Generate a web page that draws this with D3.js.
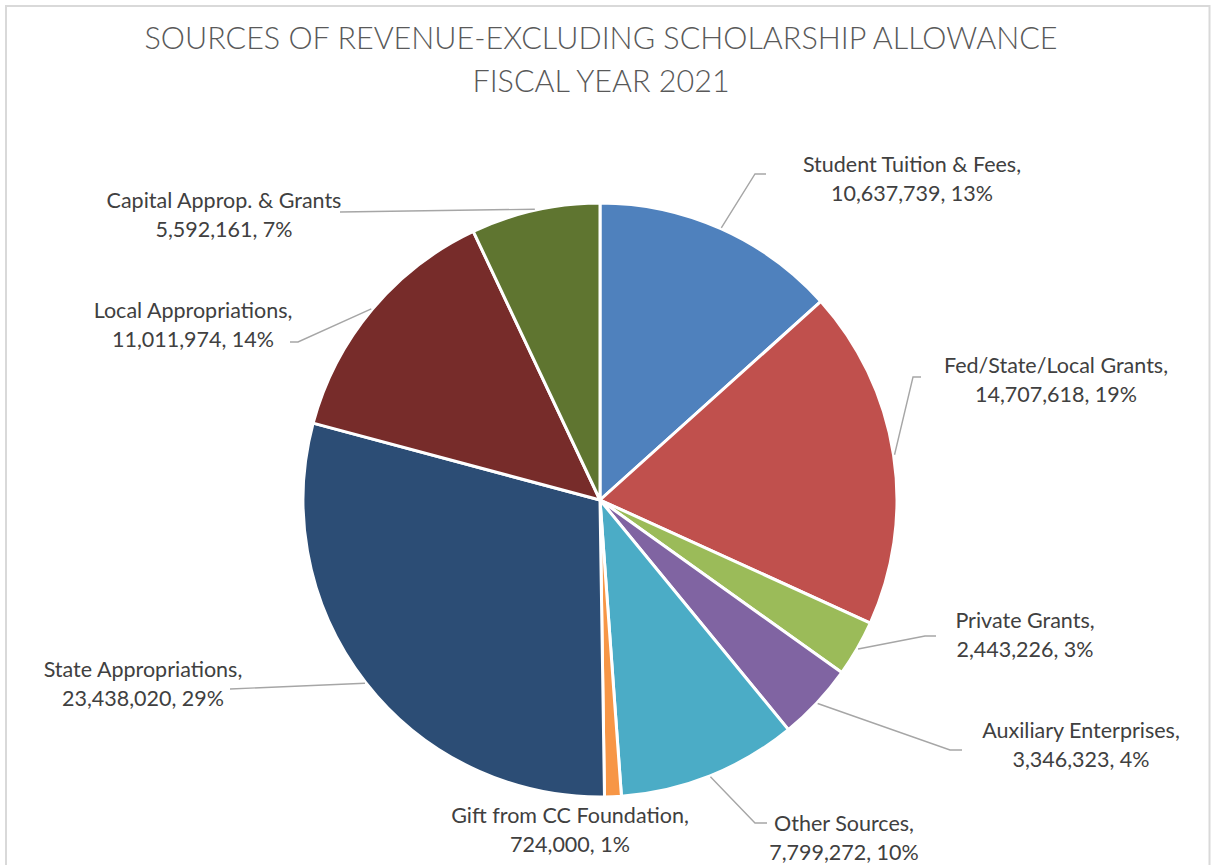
<!DOCTYPE html>
<html>
<head>
<meta charset="utf-8">
<script src="https://cdn.jsdelivr.net/npm/d3@7"></script>
<style>
  html, body { margin: 0; padding: 0; background: #fff; }
  svg { display: block; }
  text { font-family: Lato, "Open Sans", sans-serif; }
</style>
</head>
<body>
<svg id="chart" width="1211" height="865"></svg>
<script>
// Revenue sources, FY2021 (clockwise from 12 o'clock)
const categories = [
  "Student Tuition & Fees",
  "Fed/State/Local Grants",
  "Private Grants",
  "Auxiliary Enterprises",
  "Other Sources",
  "Gift from CC Foundation",
  "State Appropriations",
  "Local Appropriations",
  "Capital Approp. & Grants"
];
const values = [10637739, 14707618, 2443226, 3346323, 7799272, 724000, 23438020, 11011974, 5592161];
const percents = [13, 19, 3, 4, 10, 1, 29, 14, 7];
const colors = ["#4F81BD", "#C0504D", "#9BBB59", "#8064A2", "#4BACC6", "#F79646", "#2C4D75", "#772C2A", "#5F7530"];
const titleLines = ["SOURCES OF REVENUE-EXCLUDING SCHOLARSHIP ALLOWANCE", "FISCAL YEAR 2021"];

// Label placement: text centre x, first baseline y, leader elbow and end (null = no leader)
const labelLayout = [
  { x: 912,  y: 172, elbow: [755, 174], end: [766, 174], comma: true },
  { x: 1056, y: 373, elbow: [913, 377], end: [921, 377], comma: true },
  { x: 1025, y: 628, elbow: [925, 636], end: [936, 636], comma: true },
  { x: 1081, y: 738, elbow: [950, 750], end: [962, 750], comma: true },
  { x: 844,  y: 831, elbow: [755, 823], end: [767, 823], comma: true },
  { x: 570,  y: 823, elbow: null, end: null, comma: true },
  { x: 143,  y: 677, elbow: [230, 689], end: [230, 689], comma: true },
  { x: 193,  y: 318, elbow: [298, 342], end: [290, 342], comma: true },
  { x: 224,  y: 208, elbow: [340, 212], end: [340, 212], comma: false }
];

const W = 1211, H = 865;
const cx = 600, cy = 500, R = 297;
const svg = d3.select("#chart");

// chart frame
svg.append("path")
  .attr("d", `M6,${H} V6 H1209.5 V${H}`)
  .attr("fill", "none")
  .attr("stroke", "#D9D9D9")
  .attr("stroke-width", 2);

// title
svg.append("text")
  .attr("x", 601).attr("text-anchor", "middle")
  .attr("fill", "#595959")
  .style("font-size", "30.5px").style("font-weight", 300)
  .selectAll("tspan").data(titleLines).join("tspan")
  .attr("x", 601)
  .attr("y", (d, i) => 49 + i * 43)
  .text(d => d);

const data = categories.map((c, i) => ({ name: c, value: values[i], pct: percents[i], color: colors[i], layout: labelLayout[i] }));

const pie = d3.pie().value(d => d.value).sort(null);
const arcs = pie(data);
const arc = d3.arc().innerRadius(0).outerRadius(R);

const g = svg.append("g").attr("transform", `translate(${cx},${cy})`);
g.selectAll("path.slice").data(arcs).join("path")
  .attr("class", "slice")
  .attr("d", arc)
  .attr("fill", d => d.data.color)
  .attr("stroke", "#fff")
  .attr("stroke-width", 3)
  .attr("stroke-linejoin", "round");

const fmt = d3.format(",");

// leader lines from each slice's outer mid-point
arcs.forEach(a => {
  const L = a.data.layout;
  if (!L.elbow) return;
  const mid = (a.startAngle + a.endAngle) / 2;
  const sx = cx + (R + 1) * Math.sin(mid);
  const sy = cy - (R + 1) * Math.cos(mid);
  svg.append("polyline")
    .attr("points", [[sx, sy], L.elbow, L.end].map(p => p.join(",")).join(" "))
    .attr("fill", "none")
    .attr("stroke", "#A6A6A6")
    .attr("stroke-width", 1.4);
});

// data labels: name, value, percentage
arcs.forEach(a => {
  const L = a.data.layout;
  const t = svg.append("text")
    .attr("text-anchor", "middle")
    .attr("fill", "#404040")
    .style("font-size", "21.5px");
  t.append("tspan").attr("x", L.x).attr("y", L.y)
    .text(a.data.name + (L.comma ? "," : ""));
  t.append("tspan").attr("x", L.x).attr("y", L.y + 29)
    .text(fmt(a.data.value) + ", " + a.data.pct + "%");
});
</script>
</body>
</html>
